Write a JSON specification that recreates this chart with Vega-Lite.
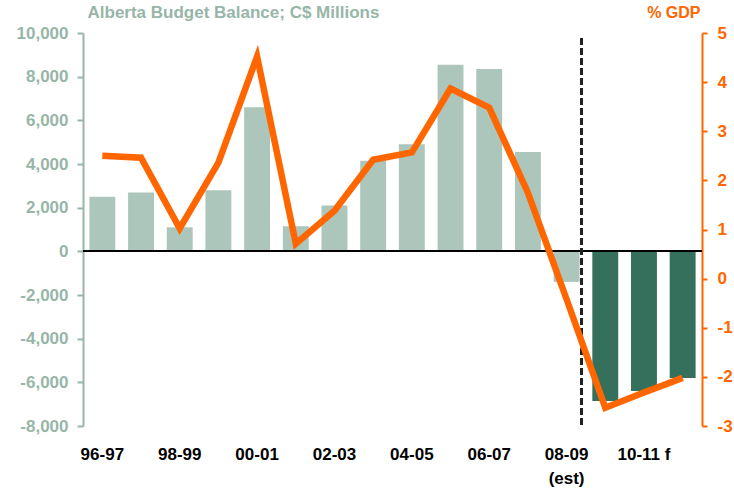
{
  "$schema": "https://vega.github.io/schema/vega-lite/v6.json",
  "width": 619,
  "height": 393,
  "autosize": {"type": "none"},
  "padding": {"left": 83, "top": 33, "right": 32, "bottom": 66},
  "background": "white",
  "config": {"view": {"stroke": null}, "font": "Liberation Sans"},
  "data": {
    "values": [
      {"period": "96-97", "balance": 2500, "gdp": 2.50, "type": "actual"},
      {"period": "97-98", "balance": 2700, "gdp": 2.46, "type": "actual"},
      {"period": "98-99", "balance": 1100, "gdp": 1.02, "type": "actual"},
      {"period": "99-00", "balance": 2800, "gdp": 2.36, "type": "actual"},
      {"period": "00-01", "balance": 6600, "gdp": 4.52, "type": "actual"},
      {"period": "01-02", "balance": 1150, "gdp": 0.71, "type": "actual"},
      {"period": "02-03", "balance": 2100, "gdp": 1.38, "type": "actual"},
      {"period": "03-04", "balance": 4150, "gdp": 2.42, "type": "actual"},
      {"period": "04-05", "balance": 4900, "gdp": 2.57, "type": "actual"},
      {"period": "05-06", "balance": 8550, "gdp": 3.87, "type": "actual"},
      {"period": "06-07", "balance": 8350, "gdp": 3.48, "type": "actual"},
      {"period": "07-08", "balance": 4550, "gdp": 1.75, "type": "actual"},
      {"period": "08-09", "balance": -1400, "gdp": -0.42, "type": "actual"},
      {"period": "09-10", "balance": -6850, "gdp": -2.63, "type": "forecast"},
      {"period": "10-11", "balance": -6400, "gdp": -2.32, "type": "forecast"},
      {"period": "11-12", "balance": -5800, "gdp": -2.02, "type": "forecast"}
    ]
  },
  "encoding": {
    "x": {
      "field": "period",
      "type": "nominal",
      "sort": null,
      "scale": {"paddingInner": 0.33, "paddingOuter": 0.165},
      "axis": {
        "title": null,
        "values": ["96-97", "98-99", "00-01", "02-03", "04-05", "06-07", "08-09", "10-11"],
        "labelExpr": "datum.value == '08-09' ? ['08-09', '(est)'] : datum.value == '10-11' ? '10-11 f' : datum.value",
        "labelAngle": 0,
        "labelFont": "Liberation Sans",
        "labelFontWeight": "bold",
        "labelFontSize": 17,
        "labelColor": "#000000",
        "labelLineHeight": 24,
        "labelBaseline": "top",
        "labelPadding": 20,
        "domain": false,
        "ticks": false,
        "grid": false
      }
    }
  },
  "layer": [
    {
      "layer": [
        {
          "mark": {"type": "bar"},
          "encoding": {
            "y": {
              "field": "balance",
              "type": "quantitative",
              "scale": {"domain": [-8000, 10000], "nice": false, "zero": false},
              "axis": {
                "title": "Alberta Budget Balance; C$ Millions",
                "titleAngle": 0,
                "titleX": 4,
                "titleY": -16,
                "titleAlign": "left",
                "titleBaseline": "alphabetic",
                "titleFont": "Liberation Sans",
                "titleFontWeight": "bold",
                "titleFontSize": 17,
                "titleColor": "#97B6A8",
                "values": [-8000, -6000, -4000, -2000, 0, 2000, 4000, 6000, 8000, 10000],
                "labelExpr": "replace(format(datum.value, ',.0f'), '\u2212', '-')",
                "labelFont": "Liberation Sans",
                "labelFontWeight": "bold",
                "labelFontSize": 17,
                "labelColor": "#97B6A8",
                "labelPadding": 9,
                "domainColor": "#97B6A8",
                "domainWidth": 2,
                "tickColor": "#97B6A8",
                "tickWidth": 2,
                "tickSize": 6,
                "grid": false
              }
            },
            "color": {
              "field": "type",
              "type": "nominal",
              "scale": {"domain": ["actual", "forecast"], "range": ["#ADC6BB", "#35705D"]},
              "legend": null
            }
          }
        },
        {
          "mark": {"type": "rule", "color": "#000000", "strokeWidth": 1.5},
          "encoding": {"y": {"datum": 0, "type": "quantitative"}, "x": null}
        },
        {
          "mark": {"type": "rule", "color": "#222222", "strokeWidth": 2, "strokeDash": [6, 4]},
          "encoding": {
            "x": {"datum": "08-09", "type": "nominal", "bandPosition": 1.08},
            "y": {"datum": 9750, "type": "quantitative"},
            "y2": {"datum": -8000}
          }
        }
      ]
    },
    {
      "mark": {"type": "line", "color": "#FF6600", "strokeWidth": 6.5, "strokeJoin": "miter", "strokeCap": "butt"},
      "encoding": {
        "y": {
          "field": "gdp",
          "type": "quantitative",
          "scale": {"domain": [-3, 5], "nice": false, "zero": false},
          "axis": {
            "orient": "right",
            "title": "% GDP",
            "titleAngle": 0,
            "titleX": -2,
            "titleY": -16,
            "titleAlign": "right",
            "titleBaseline": "alphabetic",
            "titleFont": "Liberation Sans",
            "titleFontWeight": "bold",
            "titleFontSize": 16,
            "titleColor": "#FF6600",
            "values": [-3, -2, -1, 0, 1, 2, 3, 4, 5],
            "labelExpr": "replace(format(datum.value, 'd'), '\u2212', '-')",
            "labelFont": "Liberation Sans",
            "labelFontWeight": "bold",
            "labelFontSize": 17,
            "labelColor": "#FF6600",
            "labelPadding": 10,
            "domainColor": "#FF6600",
            "domainWidth": 2,
            "tickColor": "#FF6600",
            "tickWidth": 2,
            "tickSize": 5,
            "grid": false
          }
        }
      }
    }
  ],
  "resolve": {"scale": {"y": "independent"}}
}
